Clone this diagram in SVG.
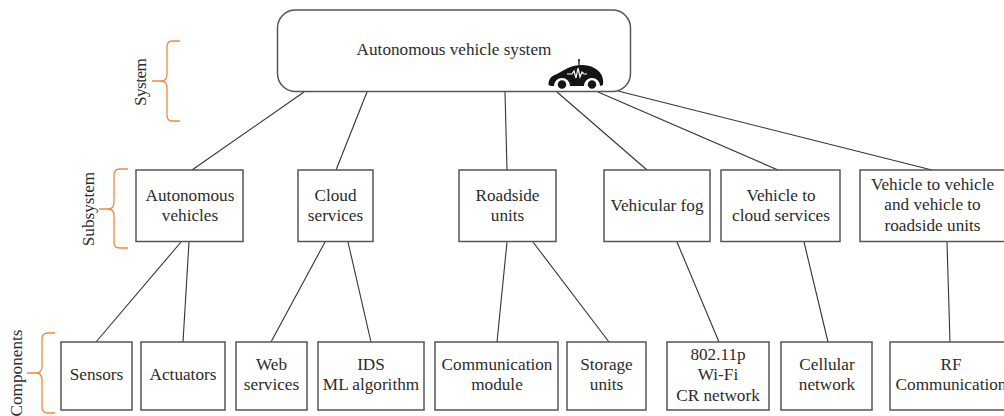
<svg xmlns="http://www.w3.org/2000/svg" width="1004" height="416" viewBox="0 0 1004 416">
<style>
text{font-family:"Liberation Serif",serif;font-size:17.200px;fill:#2b2b2b;text-anchor:middle}
.b{fill:#fff;stroke:#555;stroke-width:1.500}
.c line{stroke:#333;stroke-width:1.100}
.br{fill:none;stroke:#f0883e;stroke-width:1.300}
</style>
<rect width="1004" height="416" fill="#fff"/>
<g class="c" id="connectors">
<line x1="304" y1="92" x2="192" y2="170"/>
<line x1="367" y1="92" x2="336" y2="170"/>
<line x1="505" y1="92" x2="507" y2="170"/>
<line x1="557" y1="92" x2="647" y2="170"/>
<line x1="598" y1="92" x2="778" y2="170"/>
<line x1="618" y1="91" x2="932" y2="170"/>
<line x1="181" y1="242" x2="96" y2="342"/>
<line x1="189" y1="242" x2="183" y2="342"/>
<line x1="325" y1="242" x2="271" y2="342"/>
<line x1="348" y1="242" x2="371" y2="342"/>
<line x1="507" y1="242" x2="497" y2="342"/>
<line x1="533" y1="242" x2="609" y2="342"/>
<line x1="677" y1="242" x2="719" y2="342"/>
<line x1="804" y1="242" x2="828" y2="342"/>
<line x1="947" y1="242" x2="950" y2="342"/>
</g>
<g id="system"><rect class="b" x="277.500" y="10" width="353" height="81.500" rx="18"/><text x="454" y="55">Autonomous vehicle system</text></g>
<g id="car-icon">
<path d="M548.500 85C548.500 79 551 76 557 74C564 70 571 65 582 65C591 65 598 69 601 74C603 77 603.500 81 603 85L600 86A8 8 0 0 0 584 86L570 86A8 8 0 0 0 554 86L551 86Z" fill="#151515"/>
<circle cx="562" cy="84.500" r="5" fill="#151515" stroke="#fff" stroke-width="1.500"/>
<circle cx="592" cy="84.500" r="5" fill="#151515" stroke="#fff" stroke-width="1.500"/>
<path d="M567 74H572L574 71L576 78L578 68L580 77L582 72L584 74H587" fill="none" stroke="#fff" stroke-width="1.200"/>
<path d="M579 65V60" stroke="#151515" stroke-width="1.300"/>
<circle cx="579" cy="60" r="1" fill="#151515"/>
</g>
<g id="autonomous-vehicles"><rect class="b" x="136" y="170" width="107" height="71.500"/><text x="190" y="201">Autonomous</text><text x="190" y="221">vehicles</text></g>
<g id="cloud-services"><rect class="b" x="298" y="170" width="75" height="71.500"/><text x="335.500" y="201">Cloud</text><text x="335.500" y="221">services</text></g>
<g id="roadside-units"><rect class="b" x="459" y="170" width="97" height="71.500"/><text x="507.500" y="201">Roadside</text><text x="507.500" y="221">units</text></g>
<g id="vehicular-fog"><rect class="b" x="604" y="170" width="106" height="71.500"/><text x="657" y="211">Vehicular fog</text></g>
<g id="vehicle-to-cloud"><rect class="b" x="721" y="170" width="119" height="71.500"/><text x="781" y="201">Vehicle to</text><text x="781" y="221">cloud services</text></g>
<g id="v2v-v2r"><rect class="b" x="860" y="170" width="145" height="71.500"/><text x="932.500" y="190">Vehicle to vehicle</text><text x="932.500" y="210">and vehicle to</text><text x="932.500" y="231">roadside units</text></g>
<g id="sensors"><rect class="b" x="61" y="342" width="71" height="68"/><text x="96.500" y="380">Sensors</text></g>
<g id="actuators"><rect class="b" x="141" y="342" width="84" height="68"/><text x="183" y="380">Actuators</text></g>
<g id="web-services"><rect class="b" x="236" y="342" width="71" height="68"/><text x="271.500" y="370">Web</text><text x="271.500" y="390">services</text></g>
<g id="ids"><rect class="b" x="318" y="342" width="106" height="68"/><text x="371" y="370">IDS</text><text x="371" y="390">ML algorithm</text></g>
<g id="communication-module"><rect class="b" x="435" y="342" width="123" height="68"/><text x="497" y="370">Communication</text><text x="497" y="390">module</text></g>
<g id="storage-units"><rect class="b" x="567" y="342" width="79" height="68"/><text x="606.500" y="370">Storage</text><text x="606.500" y="390">units</text></g>
<g id="wifi"><rect class="b" x="667" y="342" width="102" height="68"/><text x="718" y="360">802.11p</text><text x="718" y="380">Wi-Fi</text><text x="718" y="401">CR network</text></g>
<g id="cellular"><rect class="b" x="781" y="342" width="91" height="68"/><text x="827" y="370">Cellular</text><text x="827" y="390">network</text></g>
<g id="rf"><rect class="b" x="890" y="342" width="130" height="68"/><text x="951" y="370">RF</text><text x="951" y="390">Communication</text></g>
<g id="brace-labels">
<path class="br" d="M180 41H172Q167 41 167 47V74Q167 81 161 81H152H161Q167 81 167 88V115Q167 121 172 121H180"/>
<path class="br" d="M128 169H120Q114 169 114 175V202Q114 209 108 209H99H108Q114 209 114 216V243Q114 248 120 248H128"/>
<path class="br" d="M55 333H48Q42 333 42 339V366Q42 373 36 373H27H36Q42 373 42 380V407Q42 413 48 413H55"/>
<text transform="translate(146 82) rotate(-90)" textLength="48">System</text>
<text transform="translate(94 209) rotate(-90)">Subsystem</text>
<text transform="translate(22 373) rotate(-90)">Components</text>
</g>
</svg>
